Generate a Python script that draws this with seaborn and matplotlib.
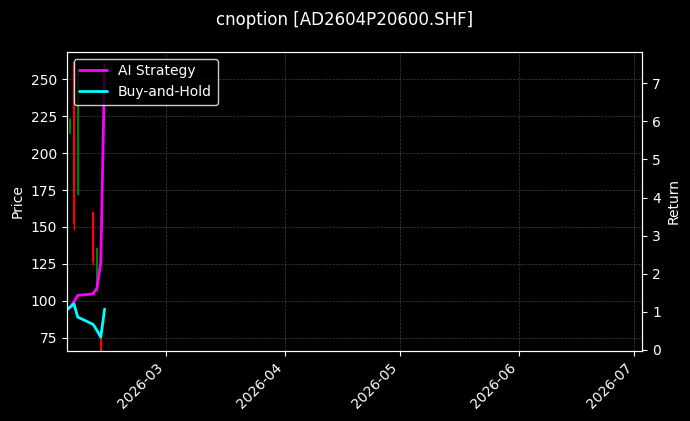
import matplotlib
matplotlib.use("Agg")
import matplotlib.pyplot as plt
import matplotlib.dates as mdates
import seaborn as sns
import pandas as pd

# candle data (daily OHLC)
candle_dates = ["2026-02-04", "2026-02-05", "2026-02-06", "2026-02-10", "2026-02-11", "2026-02-12"]
opens = [214, 262, 172, 160, 108, 75]
highs = [224, 262, 258, 160.5, 136.5, 75.5]
lows = [213, 148, 171.5, 124, 106, 55]
closes = [223, 152, 256, 126, 136, 58]

# cumulative return curves
return_dates = ["2026-02-03", "2026-02-04", "2026-02-05", "2026-02-06",
                "2026-02-10", "2026-02-11", "2026-02-12", "2026-02-13"]
ai_strategy = [1.04, 1.12, 1.26, 1.43, 1.47, 1.62, 2.29, 7.47]
buy_hold = [1.04, 1.12, 1.21, 0.86, 0.67, 0.51, 0.335, 1.07]

title = "cnoption [AD2604P20600.SHF]"

plt.style.use("dark_background")
sns.set_style("dark", {"axes.facecolor": "black", "figure.facecolor": "black",
                       "axes.edgecolor": "white", "text.color": "white",
                       "axes.labelcolor": "white", "xtick.color": "white",
                       "ytick.color": "white", "xtick.bottom": True, "ytick.left": True})
plt.rcParams["font.family"] = ["DejaVu Sans"]

cdf = pd.DataFrame({"date": pd.to_datetime(candle_dates), "open": opens,
                    "high": highs, "low": lows, "close": closes})
rdf = pd.DataFrame({"date": pd.to_datetime(return_dates),
                    "AI Strategy": ai_strategy, "Buy-and-Hold": buy_hold})

xlim = (pd.Timestamp("2026-02-03 03:00"), pd.Timestamp("2026-07-03 02:00"))

fig = plt.figure(figsize=(6.9, 4.21), dpi=100)
ax1 = fig.add_axes([0.0967, 0.167, 0.8342, 0.710])

colors = ["green" if c >= o else "red" for o, c in zip(cdf["open"], cdf["close"])]
ax1.vlines(cdf["date"], cdf["low"], cdf["high"], colors=colors, linewidth=1)
ax1.bar(cdf["date"], (cdf["close"] - cdf["open"]).abs(),
        bottom=cdf[["open", "close"]].min(axis=1), width=0.5,
        color=colors, edgecolor=colors, linewidth=0)
ax1.set_ylabel("Price")
ax1.set_ylim(66.2, 268.7)
ax1.grid(True, linestyle="--", linewidth=0.5, alpha=0.25, color="white")
for s in ax1.spines.values():
    s.set_color("white")

ax2 = ax1.twinx()
sns.lineplot(data=rdf, x="date", y="AI Strategy", ax=ax2, color="magenta",
             linewidth=2, label="AI Strategy")
sns.lineplot(data=rdf, x="date", y="Buy-and-Hold", ax=ax2, color="cyan",
             linewidth=2, label="Buy-and-Hold")
ax2.set_ylabel("Return")
ax2.set_xlabel("")
ax2.grid(False)
ax2.legend(loc="upper left", facecolor="black", edgecolor="white")

ax1.set_xlim(*xlim)
ax1.xaxis.set_major_locator(mdates.MonthLocator())
ax1.xaxis.set_major_formatter(mdates.DateFormatter("%Y-%m"))
for lab in ax1.get_xticklabels():
    lab.set_rotation(45)
    lab.set_ha("right")
ax1.set_xlabel("")

fig.suptitle(title, fontsize=12, y=0.975, va="top")
fig.savefig("out.png", dpi=100)
